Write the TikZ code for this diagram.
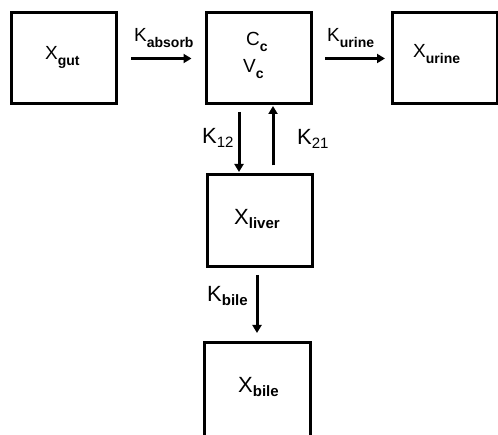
\documentclass[tikz,border=0pt]{standalone}
\usepackage{fontspec}
\setmainfont{Liberation Sans}
\usetikzlibrary{arrows.meta}
\newcommand\subA[1]{\raisebox{-6pt}{\fontsize{14pt}{15pt}\selectfont\bfseries #1}}
\newcommand\subB[1]{\raisebox{-4pt}{\fontsize{15pt}{16pt}\selectfont\bfseries #1}}
\newcommand\subN[1]{\raisebox{-4pt}{\fontsize{15pt}{16pt}\selectfont #1}}
\tikzset{
  box/.style={draw, line width=3pt, minimum width=105pt, minimum height=91pt, outer sep=0pt, inner sep=0pt},
  arr/.style={line width=3pt, -{Triangle[length=8pt,width=9pt]}},
  lblA/.style={anchor=base west, inner sep=0pt, font=\fontsize{19pt}{22pt}\selectfont},
  lblB/.style={anchor=base west, inner sep=0pt, font=\fontsize{22pt}{25pt}\selectfont},
}
\begin{document}
\begin{tikzpicture}[x=1pt, y=-1pt]
\useasboundingbox (0,0) rectangle (498,435);
\clip (0,0) rectangle (498,435);
% boxes
\node[box] (gut) at (64,58.5) {};
\node[box] (cc) at (258.5,58.5) {};
\node[box] (urine) at (444.5,58.5) {};
\node[box, minimum height=92pt] (liver) at (260,220.5) {};
\node[box, minimum width=106pt, minimum height=110pt] (bile) at (257.5,397.5) {};
% texts
\node[lblA] (tgut) at (45,60) {X\subA{gut}};
\node[lblA] (tcc) at (246,46) {C\subA{c}};
\node[lblA] (tvc) at (243,73) {V\subA{c}};
\node[lblA] (turine) at (413,58) {X\subA{urine}};
\node[lblA] (kabs) at (134,42) {K\subA{absorb}};
\node[lblA] (kur) at (327,42) {K\subA{urine}};
\node[lblB] (k12) at (202,144) {K\subN{12}};
\node[lblB] (k21) at (297,145) {K\subN{21}};
\node[lblB] (tliver) at (234,225) {X\subB{liver}};
\node[lblB] (kbile) at (207,302) {K\subB{bile}};
\node[lblB] (tbile) at (238,392) {X\subB{bile}};
% connectors
\draw[arr, shorten <=14.5pt, shorten >=14.5pt] (gut.east) -- (cc.west);
\draw[arr, shorten <=14pt, shorten >=7pt] (cc.east) -- (urine.west);
\draw[arr, shorten <=8pt, shorten >=2.5pt] ([xshift=-19.5pt]cc.south) -- ([xshift=-19.5pt]cc.south |- liver.north);
\draw[arr, shorten <=9pt, shorten >=2pt] ([xshift=14.5pt]cc.south |- liver.north) -- ([xshift=14.5pt]cc.south);
\draw[arr, shorten <=8.5pt, shorten >=9.5pt] ([xshift=-3pt]liver.south) -- ([xshift=-3pt]liver.south |- bile.north);
\end{tikzpicture}
\end{document}
